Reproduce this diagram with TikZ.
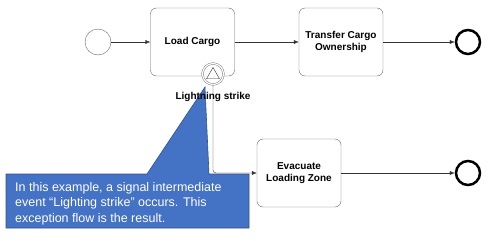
\documentclass[tikz,border=0pt]{standalone}
\usepackage{fontspec}
\setmainfont{Liberation Sans}
\usepackage{xcolor}
\usepackage{tikz}
\usetikzlibrary{
	arrows.meta,
	calc,
	positioning,
	shapes.geometric
}
\definecolor{noteblue}{HTML}{4472C4}
\definecolor{noteedge}{HTML}{2F528F}
\definecolor{boxedge}{HTML}{666666}
\definecolor{flowgray}{HTML}{333333}

\begin{document}
\begin{tikzpicture}[x=1pt, y=-1pt,
	task/.style={draw=boxedge, rounded corners=6pt, minimum width=84pt, minimum height=68pt,
		align=center, inner sep=0pt, font=\bfseries\fontsize{10}{12.5}\selectfont},
	startev/.style={circle, draw=boxedge, minimum size=26pt, inner sep=0pt},
	endev/.style={circle, draw=black, line width=2.5pt, minimum size=24pt, inner sep=0pt},
	bevent/.style={circle, draw=boxedge, fill=white, double, double distance=1.3pt, minimum size=21pt, inner sep=0pt},
	flow/.style={draw=flowgray, -{Latex[length=5pt,width=4pt]}},
	calltext/.style={text=white, align=left, inner sep=0pt, font=\fontsize{12.5}{15.5}\selectfont}
]
			\useasboundingbox (0,0) rectangle (493,241);
			\node[startev] (start) at (98,42) {};
			\node[task] (load) at (192.5,42) {Load Cargo};
			\node[task] (transfer) at (341,42) {Transfer Cargo\\Ownership};
			\node[endev] (end1) at (468,42) {};
			\node[task] (evac) at (299,173) {Evacuate\\Loading Zone};
			\node[endev] (end2) at (468,173) {};
			\draw[fill=noteblue, draw=noteedge, line width=0.6pt]
				(6,174) -- (147,174) -- (205,87) -- (209,174) -- (249,174)
				-- (249,228) -- (6,228) -- cycle;
			\node[calltext, anchor=north west] (note) at (15,182)
				{In this example, a signal intermediate\\event “Lighting strike” occurs. This\\exception flow is the result.};
			\node[bevent] (strike) at (213,74) {};
			\node[regular polygon, regular polygon sides=3, draw=flowgray, minimum size=15pt, inner sep=0pt] (strikeicon) at ($(strike)+(0,1)$) {};
			\node[font=\bfseries\fontsize{10}{12}\selectfont] (strikelbl) at (213,97) {Lightning strike};
			\draw[flow] (start) -- (load);
			\draw[flow] (load) -- (transfer);
			\draw[flow] (transfer) -- (end1);
			\draw[flow, rounded corners=3pt] (strike.south) |- (evac.west);
			\draw[flow] (evac) -- (end2);
		\end{tikzpicture}
\end{document}
